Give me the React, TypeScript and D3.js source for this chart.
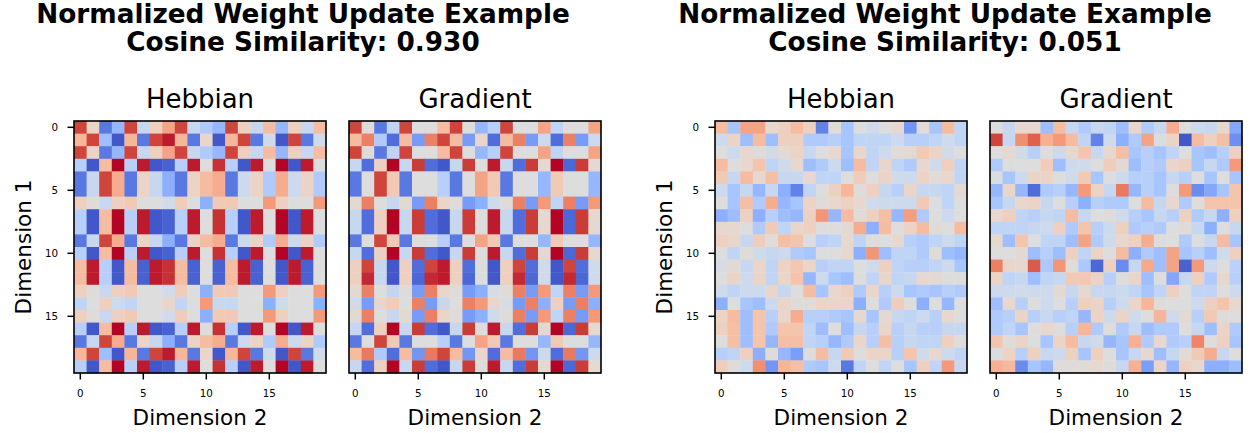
import React from 'react';
import * as d3 from 'd3';

// ---- data (percent of the colour range, -100 … 100) ----

const similarities = [0.930, 0.051];
const methodNames = ['Hebbian', 'Gradient'];
const tickValues = [0, 5, 10, 15];

const hebbianA: number[][] = [
  [85, 12, -80, -45, 85, -15, 15, 45, 85, -15, -30, -45, 85, 15, -15, 30, -45, 15, -15, 30],
  [35, 85, -40, -95, 35, -80, 85, 95, 35, -80, 10, -95, 35, 85, -80, -10, -95, 85, -80, -10],
  [85, 12, -80, -45, 85, -15, 15, 45, 85, -15, -30, -45, 85, 15, -15, 30, -45, 15, -15, 30],
  [-25, -95, 30, 100, -25, 95, -95, -90, -25, 95, 0, 90, -25, -95, 95, 0, 100, -95, 95, 0],
  [-80, -15, 85, 40, -80, 12, -15, -50, -80, 12, 30, 40, -80, -12, 12, -30, 40, -12, 12, -30],
  [-80, -15, 85, 40, -80, 12, -15, -50, -80, 12, 30, 40, -80, -12, 12, -30, 40, -12, 12, -30],
  [15, 2, -15, 15, 20, 0, 0, -10, 18, 0, -50, 20, 20, 0, 0, 50, 15, 0, 0, 50],
  [-25, -95, 30, 100, -25, 95, -95, -90, -25, 95, 0, 90, -25, -95, 95, 0, 100, -95, 95, 0],
  [-25, -95, 30, 100, -25, 95, -95, -90, -25, 95, 0, 90, -25, -95, 95, 0, 100, -95, 95, 0],
  [-80, -15, 85, 40, -80, 12, -15, -50, -80, 12, 30, 40, -80, -12, 12, -30, 40, -12, 12, -30],
  [-25, -95, 30, 100, -25, 95, -95, -90, -25, 95, 0, 90, -25, -95, 95, 0, 100, -95, 95, 0],
  [30, 95, -25, -95, 30, -90, 95, 90, 30, -90, 0, -90, 30, 95, -90, 0, -95, 95, -90, 0],
  [30, 95, -25, -95, 30, -90, 95, 90, 30, -90, 0, -90, 30, 95, -90, 0, -95, 95, -90, 0],
  [15, 2, -15, 15, 20, 0, 0, -10, 18, 0, -50, 20, 20, 0, 0, 50, 15, 0, 0, 50],
  [-20, 0, 15, -12, -18, 0, 0, 10, -18, 0, 50, -15, -15, 0, 0, -50, -12, 0, 0, -50],
  [15, 2, -15, 15, 20, 0, 0, -10, 18, 0, -50, 20, 20, 0, 0, 50, 15, 0, 0, 50],
  [-25, -95, 30, 100, -25, 95, -95, -90, -25, 95, 0, 90, -25, -95, 95, 0, 100, -95, 95, 0],
  [-80, -15, 85, 40, -80, 12, -15, -50, -80, 12, 30, 40, -80, -12, 12, -30, 40, -12, 12, -30],
  [35, 85, -40, -95, 35, -80, 85, 95, 35, -80, 10, -95, 35, 85, -80, -10, -95, 85, -80, -10],
  [-25, -95, 30, 100, -25, 95, -95, -90, -25, 95, 0, 90, -25, -95, 95, 0, 100, -95, 95, 0],
];

const gradientA: number[][] = [
  [85, 2, -80, -20, 85, 0, 0, 30, 85, 0, -45, -25, 85, 0, 0, 45, -20, 0, 0, 45],
  [30, 62, -30, -85, 30, -62, 62, 85, 30, -62, 10, -85, 30, 62, -62, -12, -85, 62, -62, -12],
  [85, 2, -80, -20, 85, 0, 0, 30, 85, 0, -45, -25, 85, 0, 0, 45, -20, 0, 0, 45],
  [-15, -85, 15, 100, -15, 88, -85, -95, -15, 88, 0, 95, -15, -85, 88, 6, 100, -88, 88, 6],
  [-80, 0, 85, 20, -80, 0, 0, -25, -80, 0, 45, 20, -80, 0, 0, -45, 20, 0, 0, -45],
  [-80, 0, 85, 20, -80, 0, 0, -25, -80, 0, 45, 20, -80, 0, 0, -45, 20, 0, 0, -45],
  [5, 62, 0, -15, 5, -62, 62, 10, 2, -62, -50, -10, 2, 62, -62, 50, -20, 62, -62, 50],
  [-15, -85, 15, 100, -15, 88, -85, -95, -15, 88, 0, 95, -15, -85, 88, 6, 100, -88, 88, 6],
  [-15, -85, 15, 100, -15, 88, -85, -95, -15, 88, 0, 95, -15, -85, 88, 6, 100, -88, 88, 6],
  [-80, 0, 85, 20, -80, 0, 0, -25, -80, 0, 45, 20, -80, 0, 0, -45, 20, 0, 0, -45],
  [-15, -85, 15, 100, -15, 88, -85, -95, -15, 88, 0, 95, -15, -85, 88, 6, 100, -88, 88, 6],
  [15, 85, -15, -95, 15, -85, 85, 95, 15, -85, 0, -95, 15, 85, -85, -10, -95, 85, -85, -10],
  [15, 92, -15, -95, 15, -88, 92, 95, 15, -88, 0, -95, 15, 92, -88, -10, -95, 92, -88, -10],
  [5, 62, 0, -18, 2, -62, 62, 10, 2, -62, -50, -5, 2, 62, -62, 50, -20, 62, -62, 50],
  [-10, -62, 10, 18, 0, 62, -62, -15, 0, 62, 50, 10, -5, -62, 62, -50, 15, -62, 62, -50],
  [5, 62, 0, -15, 5, -62, 62, 10, 2, -62, -50, -10, 2, 62, -62, 50, -20, 62, -62, 50],
  [-15, -85, 15, 100, -15, 88, -85, -95, -15, 88, 0, 95, -15, -85, 88, 6, 100, -88, 88, 6],
  [-80, 0, 85, 20, -80, 0, 0, -25, -80, 0, 45, 20, -80, 0, 0, -45, 20, 0, 0, -45],
  [30, 65, -30, -85, 30, -65, 65, 85, 30, -65, 10, -85, 30, 65, -65, -12, -85, 65, -65, -12],
  [-15, -85, 15, 100, -15, 88, -85, -95, -15, 88, 0, 95, -15, -85, 88, 6, 100, -88, 88, 6],
];

const hebbianB: number[][] = [
  [30, -35, 45, 45, 8, 15, 30, 15, -75, 3, -35, 0, -10, 0, 8, -65, 3, -35, 30, -20],
  [-12, 12, -40, 30, -40, 15, 15, -30, -30, -25, -35, -20, -20, -20, -12, -25, -25, -20, -10, -20],
  [0, -12, 8, 2, -8, 5, 12, -15, 0, 8, -35, 10, -20, -12, 3, 5, 20, 12, -8, 0],
  [30, 0, 8, 25, -20, -10, 8, -40, -30, -12, -40, 30, -20, 10, -20, -30, 8, -10, 15, -20],
  [20, -15, 30, 8, 28, -15, -15, 8, -20, -20, 0, 18, 0, 12, -10, -12, 12, 3, 8, -20],
  [-12, -35, -15, -45, -15, -50, -75, -20, 0, 15, 35, 2, 15, -15, -25, 10, -15, -15, -20, 5],
  [0, -35, 28, -30, 40, -45, -35, 12, 2, 8, 15, 8, -10, -12, -12, -12, 20, 0, -20, 0],
  [-50, -40, 15, -50, -25, -40, -45, 15, 52, -45, 30, 2, 15, 28, -45, 48, -30, 0, -12, 0],
  [8, 8, 0, -30, 20, -20, 10, 15, 0, 0, 5, 40, -50, 30, 0, 12, 30, 2, 0, 30],
  [15, 10, -15, 18, 2, 28, 25, 0, -25, -20, 8, -20, 0, 0, 8, -25, -30, -20, -12, -20],
  [0, -20, 2, -10, -15, -12, -30, -35, 0, 0, 8, -50, 52, -40, -20, -20, -30, 2, -40, -45],
  [-5, 5, -15, 10, -20, 12, 22, 10, -25, -20, -20, 0, -10, 15, -20, -25, -25, -20, -12, -35],
  [0, 12, -12, 12, -20, 10, 25, -45, -12, -35, -40, 0, -20, 10, -20, -15, 8, 5, 0, 0],
  [-10, -20, -12, -12, 10, -15, 0, 30, -35, 8, 15, -30, 10, -25, -12, -35, -30, -35, -25, -30],
  [-50, 0, -35, -40, -12, 10, 2, 2, 10, 10, 10, -50, 0, -30, 18, 0, -50, 0, -45, 0],
  [12, 30, -40, 25, -25, 10, 40, -25, -25, -30, -35, 8, -35, 6, -15, -20, -12, -25, 8, 0],
  [15, 28, -40, 25, -30, 25, 25, -20, -40, 0, -40, -15, -25, 10, -25, -15, -25, -25, -15, -15],
  [0, 28, -40, 25, -45, 28, 28, -20, -25, -45, -30, 10, -25, 28, -25, -15, -20, -20, 15, 0],
  [-25, -20, 15, -50, 2, -45, -60, 0, 30, -15, 20, 0, 12, 10, -25, 25, -10, 8, -12, -20],
  [18, 2, -12, 55, -65, 35, 28, -30, -35, -12, -80, -20, 0, -20, 0, -35, 15, -20, 50, -15],
];

const gradientB: number[][] = [
  [0, -15, 8, 8, -40, 30, -15, -30, -15, -20, -40, 10, -30, -15, 40, 0, -12, -15, 8, -55],
  [85, -15, 55, 75, 38, 50, 30, -20, -75, -10, -50, -30, 45, -3, 12, -95, 30, 15, 28, -68],
  [0, 6, -10, -25, 0, -12, 6, 25, -15, 8, 28, -35, -25, -35, -20, 0, -35, -40, -25, 15],
  [-30, 0, 0, 0, 18, -40, -12, -10, 0, 18, 5, -40, -25, -30, 10, 15, -35, -15, -30, 50],
  [-3, -35, -12, 12, 12, 0, -10, 20, -35, 0, -12, -25, -25, -35, -15, -25, 0, -35, 0, -35],
  [-45, 10, -45, -85, -30, -25, -45, 50, 12, -15, 65, -45, -25, -35, 0, 50, -70, -55, -35, 25],
  [-35, -15, 8, 12, -15, 0, -25, -50, -25, -30, -30, 0, 30, -15, 8, -30, 0, 25, 25, 25],
  [8, 15, -20, -25, -15, -20, 30, -15, 0, 2, -10, -25, -35, -15, -25, 15, -30, -15, -50, 15],
  [-20, -20, -20, -15, -12, 15, -30, 25, -25, -12, 15, -30, -25, -30, 0, 3, -15, -50, 0, -15],
  [6, -40, 25, 0, -20, -20, -40, 45, -30, -10, 8, 15, 40, 2, 0, -30, 0, -15, 30, -35],
  [0, 0, 5, -40, -25, -40, 15, -20, 12, 0, 30, -50, -30, -40, 45, -35, -25, -40, -10, 15],
  [62, 10, 8, 77, -32, 52, 3, -32, -88, 15, -70, -15, 42, -40, 45, -90, 50, -12, 0, -23],
  [12, -20, -15, -40, -20, -15, 20, 22, 12, -25, 0, 10, -40, 0, -55, -15, 15, -30, 8, -25],
  [-12, -12, -10, -12, -12, 6, -15, 6, -15, -15, -12, -20, -35, -20, 15, 0, -20, -20, 0, -12],
  [-40, 8, -25, 0, -12, 0, -25, 15, 12, -25, -12, 10, 35, 2, 0, 0, -12, 15, 25, 8],
  [-30, -25, 12, -25, -15, -25, -20, -45, 12, -12, 12, -10, 0, 35, -10, 5, -25, 20, 2, 0],
  [-30, -20, -35, 0, 8, 0, -25, 35, -30, 2, -30, -15, -40, -30, -30, 0, -15, -40, 12, -30],
  [25, 2, 12, 0, -35, 12, 30, -15, -10, -45, -35, 38, -30, 8, -30, -25, 60, 0, 15, -35],
  [-3, 12, -25, 15, -15, -12, 15, -35, 15, 0, -35, -15, 8, -40, -15, 3, 20, 40, -15, 0],
  [38, 32, -70, -35, -45, 2, 2, 3, 6, 2, -15, 38, -60, 10, -45, 15, 8, -50, -50, -40],
];

const examples = [
  { similarity: similarities[0], matrices: [hebbianA, gradientA] },
  { similarity: similarities[1], matrices: [hebbianB, gradientB] },
];

// ---- layout ----

const W = 1250;
const H = 433;
const FONT = "'DejaVu Sans', sans-serif";
const TOP = 121;
const SIZE = 252;
const PANEL_LEFT = [
  [74, 349],
  [715, 990],
];
const TITLE_CX = [303, 945];

// matplotlib "coolwarm" sampled at 1/16 steps
const coolwarmStops = [
  '#3b4cc0', '#4d68d7', '#6282ea', '#779af7', '#8db0fe', '#a3c2ff', '#b8d0f9', '#ccd9ee',
  '#dddddd', '#ecd3c5', '#f5c4ac', '#f7b194', '#f49a7b', '#ec7f63', '#de604d', '#cb3e38', '#b40426',
];
const color = d3
  .scaleLinear<string>()
  .domain(coolwarmStops.map((_, i) => -100 + (200 * i) / (coolwarmStops.length - 1)))
  .range(coolwarmStops)
  .interpolate(d3.interpolateRgb)
  .clamp(true);

function Heatmap({ data, x0, title, showY }: { data: number[][]; x0: number; title: string; showY: boolean }) {
  const n = data.length;
  const x = d3.scaleBand<number>().domain(d3.range(n)).range([x0, x0 + SIZE]);
  const y = d3.scaleBand<number>().domain(d3.range(n)).range([TOP, TOP + SIZE]);
  const bw = x.bandwidth();
  const bh = y.bandwidth();
  const cx = x0 + SIZE / 2;
  return (
    <g>
      {data.map((row, i) =>
        row.map((v, j) => (
          <rect
            key={`${i}-${j}`}
            x={x(j)!}
            y={y(i)!}
            width={bw + 0.4}
            height={bh + 0.4}
            fill={color(v)}
          />
        )),
      )}
      <rect x={x0} y={TOP} width={SIZE} height={SIZE} fill="none" stroke="#000" strokeWidth={1.6} />
      {tickValues.map((t) => (
        <g key={`xt${t}`}>
          <line
            x1={x(t)! + bw / 2}
            x2={x(t)! + bw / 2}
            y1={TOP + SIZE}
            y2={TOP + SIZE + 6.5}
            stroke="#000"
            strokeWidth={1.5}
          />
          <text x={x(t)! + bw / 2} y={396.5} textAnchor="middle" fontSize={10.3} fontFamily={FONT} fill="#000">
            {t}
          </text>
        </g>
      ))}
      {showY &&
        tickValues.map((t) => (
          <g key={`yt${t}`}>
            <line
              x1={x0 - 6.5}
              x2={x0}
              y1={y(t)! + bh / 2}
              y2={y(t)! + bh / 2}
              stroke="#000"
              strokeWidth={1.5}
            />
            <text
              x={x0 - 16}
              y={y(t)! + bh / 2}
              dy="0.36em"
              textAnchor="end"
              fontSize={10.3}
              fontFamily={FONT}
              fill="#000"
            >
              {t}
            </text>
          </g>
        ))}
      <text x={cx} y={108} textAnchor="middle" fontSize={26} fontFamily={FONT} fill="#000">
        {title}
      </text>
      <text x={cx} y={425} textAnchor="middle" fontSize={21.5} fontFamily={FONT} fill="#000">
        Dimension 2
      </text>
      {showY && (
        <text
          transform={`translate(${x0 - 43},${TOP + SIZE / 2}) rotate(-90)`}
          textAnchor="middle"
          fontSize={21.5}
          fontFamily={FONT}
          fill="#000"
        >
          Dimension 1
        </text>
      )}
    </g>
  );
}

export default function App() {
  return (
    <svg
      width={W}
      height={H}
      viewBox={`0 0 ${W} ${H}`}
      style={{ position: 'absolute', left: 0, top: 0, display: 'block', background: '#fff' }}
    >
      <rect width={W} height={H} fill="#fff" />
      {examples.map((ex, k) => (
        <g key={k}>
          <text
            x={TITLE_CX[k]}
            y={22.5}
            textAnchor="middle"
            fontSize={26.3}
            fontWeight="bold"
            fontFamily={FONT}
            fill="#000"
          >
            Normalized Weight Update Example
          </text>
          <text
            x={TITLE_CX[k]}
            y={50.5}
            textAnchor="middle"
            fontSize={26.3}
            fontWeight="bold"
            fontFamily={FONT}
            fill="#000"
          >
            {`Cosine Similarity: ${ex.similarity.toFixed(3)}`}
          </text>
          {ex.matrices.map((m, i) => (
            <Heatmap key={i} data={m} x0={PANEL_LEFT[k][i]} title={methodNames[i]} showY={i === 0} />
          ))}
        </g>
      ))}
    </svg>
  );
}
